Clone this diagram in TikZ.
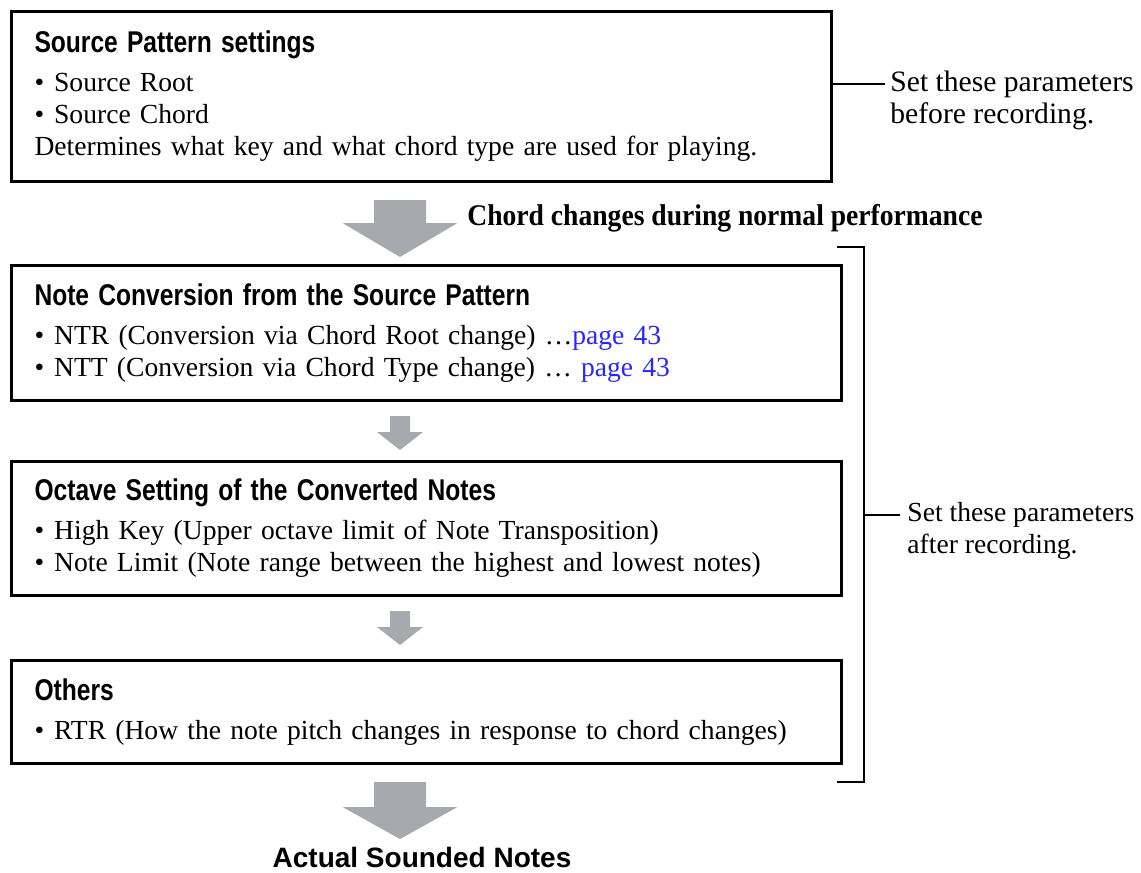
\documentclass[tikz,border=0pt]{standalone}
\usepackage{fontspec}
\setmainfont{Liberation Serif}
\newfontfamily\headfont[FakeStretch=0.82]{Liberation Sans}
\newfontfamily\plainhead{Liberation Sans}
\newfontfamily\leadfont[FakeStretch=0.92]{Liberation Serif}
\usetikzlibrary{positioning, calc}
\definecolor{ArrowGray}{RGB}{167,169,172}
\definecolor{LinkBlue}{RGB}{40,40,250}

% grey block arrow below a box: box, gap, shaft half width, head half width, shaft length, head length
\newcommand{\flowarrow}[6]{%
  \fill[ArrowGray] ($(#1.south west)+(390-#3,#2)$) -- ++(2*#3,0) -- ++(0,#5)
    -- ++(#4-#3,0) -- ++(-#4,#6) -- ++(-#4,-#6) -- ++(#4-#3,0) -- cycle;}
\newcommand{\bitem}{\textbullet\hspace{5pt}}
\newcommand{\boxtitle}[1]{{\headfont\bfseries\fontsize{15}{16}\selectfont #1}\\[3.5pt]}

\begin{document}
\begin{tikzpicture}[
    x=0.5pt, y=-0.5pt,
    panel/.style={
        rectangle, draw=black, line width=1.5pt, fill=white,
        minimum width=#1, text width=#1-23pt, inner xsep=11.5pt,
        align=left, font=\fontsize{13.8}{16}\selectfont
    },
    sidenote/.style={align=left, font=\fontsize{#1}{16}\selectfont, inner sep=0pt},
    sidenote/.default=13.8,
    bracket/.style={line width=1pt, black},
    node distance=40pt
]
\useasboundingbox (0,0) rectangle (1141,873);

% ===================================================================
% SOURCE PATTERN
% ===================================================================
\node[panel=410pt, minimum height=85pt, anchor=north west] (src) at (10,10)
    {\boxtitle{Source Pattern settings}
     \bitem Source Root\\
     \bitem Source Chord\\
     Determines what key and what chord type are used for playing.};

\coordinate (srctick) at ($(src.north east)!0.43!(src.south east)$);
\draw[bracket] (srctick) -- ++(52,0) coordinate (srctickend);
\node[sidenote=14.8, anchor=west] (beforenote) at ($(srctickend)+(5,16)$)
    {Set these parameters\\before recording.};

% ===================================================================
% CONVERSION STAGES
% ===================================================================
\node[panel=415pt, minimum height=67.5pt, below=40.5pt of src.south west, anchor=north west] (conv)
    {\boxtitle{Note Conversion from the Source Pattern}
     \bitem NTR (Conversion via Chord Root change) …\textcolor{LinkBlue}{page 43}\\
     \bitem NTT (Conversion via Chord Type change) … \textcolor{LinkBlue}{page 43}};

\node[panel=415pt, minimum height=67pt, below=29pt of conv.south west, anchor=north west] (octave)
    {\boxtitle{Octave Setting of the Converted Notes}
     \bitem High Key (Upper octave limit of Note Transposition)\\
     \bitem Note Limit (Note range between the highest and lowest notes)};

\node[panel=415pt, minimum height=51.5pt, below=31pt of octave.south west, anchor=north west] (others)
    {\boxtitle{Others}
     \bitem RTR (How the note pitch changes in response to chord changes)};

% ===================================================================
% ARROWS
% ===================================================================
\flowarrow{src}{17}{26}{57.5}{23}{34}
\flowarrow{conv}{14}{10}{23}{16}{18}
\flowarrow{octave}{14}{10}{23}{16}{18}
\flowarrow{others}{17}{26}{57.5}{25}{32}

\node[anchor=west, inner sep=0pt, font=\leadfont\bfseries\fontsize{15}{17}\selectfont] (chordlbl)
    at ($(src.south west)+(457,35)$) {Chord changes during normal performance};

\node[anchor=base, inner sep=0pt, font=\plainhead\bfseries\fontsize{14}{16}\selectfont] (result)
    at ($(others.south west)+(412,102)$) {Actual Sounded Notes};

% ===================================================================
% BRACKET
% ===================================================================
\coordinate (brtop) at ($(conv.north east)+(-6,-17)$);
\coordinate (brbot) at ($(others.south east)+(-6,17)$);
\draw[bracket] (brtop) -- ++(27,0) |- (brbot);
\coordinate (brmid) at ($(brtop)!0.5!(brbot)+(27,0)$);
\draw[bracket] (brmid) -- ++(36,0) coordinate (brmidend);
\node[sidenote, anchor=west] (afternote) at ($(brmidend)+(7,16)$)
    {Set these parameters\\after recording.};

\end{tikzpicture}
\end{document}
